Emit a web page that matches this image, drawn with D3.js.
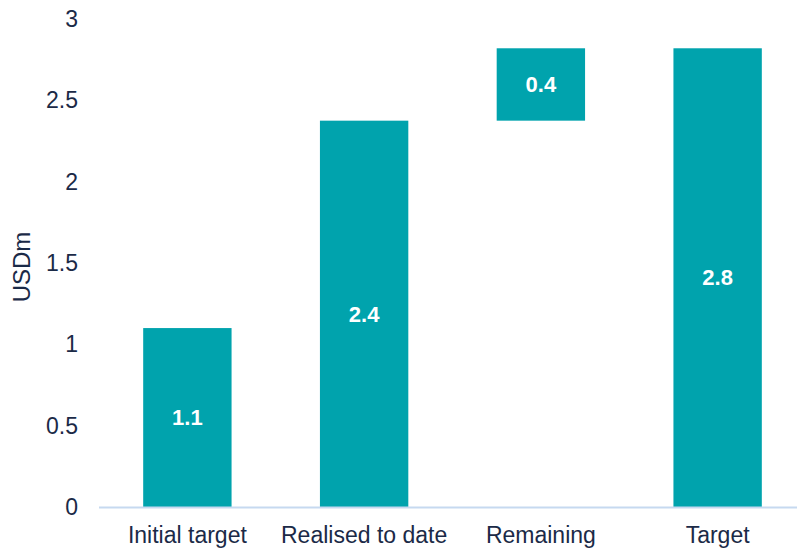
<!DOCTYPE html>
<html><head><meta charset="utf-8">
<script src="https://cdn.jsdelivr.net/npm/d3@7"></script>
<style>body{margin:0;background:#fff}svg{display:block;font-family:"Liberation Sans",Arial,sans-serif}</style>
</head><body>
<svg id="c" width="797" height="549"></svg>
<script>
const categories = ["Initial target", "Realised to date", "Remaining", "Target"];
const barBase = [0, 0, 2.375, 0];
const barValue = [1.1, 2.375, 0.445, 2.82];
const yTicks = [0, 0.5, 1, 1.5, 2, 2.5, 3];
const yLabel = "USDm";

(function () {
const svg = d3.select("#c");
const mLeft = 99, mRight = 806, mTop = 19, mBottom = 507;
const x = d3.scaleBand().domain(categories).range([mLeft, mRight]).paddingInner(0.5).paddingOuter(0.25);
const y = d3.scaleLinear().domain([0, 3]).range([mBottom, mTop]);
const color = "#00a3ad", textCol = "#1b2a47";

const data = categories.map((c, i) => ({c, b: barBase[i], v: barValue[i]}));
svg.selectAll("rect.bar").data(data).join("rect")
  .attr("x", d => x(d.c)).attr("width", x.bandwidth())
  .attr("y", d => y(d.b + d.v)).attr("height", d => y(d.b) - y(d.b + d.v))
  .attr("fill", color);

svg.selectAll("text.val").data(data).join("text")
  .attr("x", d => x(d.c) + x.bandwidth() / 2)
  .attr("y", d => (y(d.b) + y(d.b + d.v)) / 2)
  .attr("dy", "0.35em").attr("text-anchor", "middle")
  .attr("fill", "#fff").attr("font-weight", "bold").attr("font-size", 22)
  .text(d => d3.format(".1f")(d.v));

svg.append("line").attr("x1", mLeft).attr("x2", 797).attr("y1", mBottom + 0.5).attr("y2", mBottom + 0.5)
  .attr("stroke", "#c6d9f0").attr("stroke-width", 2);

svg.selectAll("text.cat").data(categories).join("text")
  .attr("x", d => x(d) + x.bandwidth() / 2).attr("y", 535)
  .attr("dy", "0.35em").attr("text-anchor", "middle")
  .attr("fill", textCol).attr("font-size", 23).text(d => d);

const yAxis = d3.axisLeft(y).tickValues(yTicks).tickSize(0).tickPadding(0).tickFormat(d3.format("~g"));
const ga = svg.append("g").attr("transform", "translate(78,0)").call(yAxis);
ga.select(".domain").remove();
ga.selectAll("text").attr("fill", textCol).attr("font-size", 23)
  .attr("font-family", "'Liberation Sans',Arial,sans-serif");

svg.append("text").attr("transform", "translate(22,267) rotate(-90)")
  .attr("text-anchor", "middle").attr("dy", "0.35em")
  .attr("fill", textCol).attr("font-size", 24).text(yLabel);
})();
</script>
</body></html>
